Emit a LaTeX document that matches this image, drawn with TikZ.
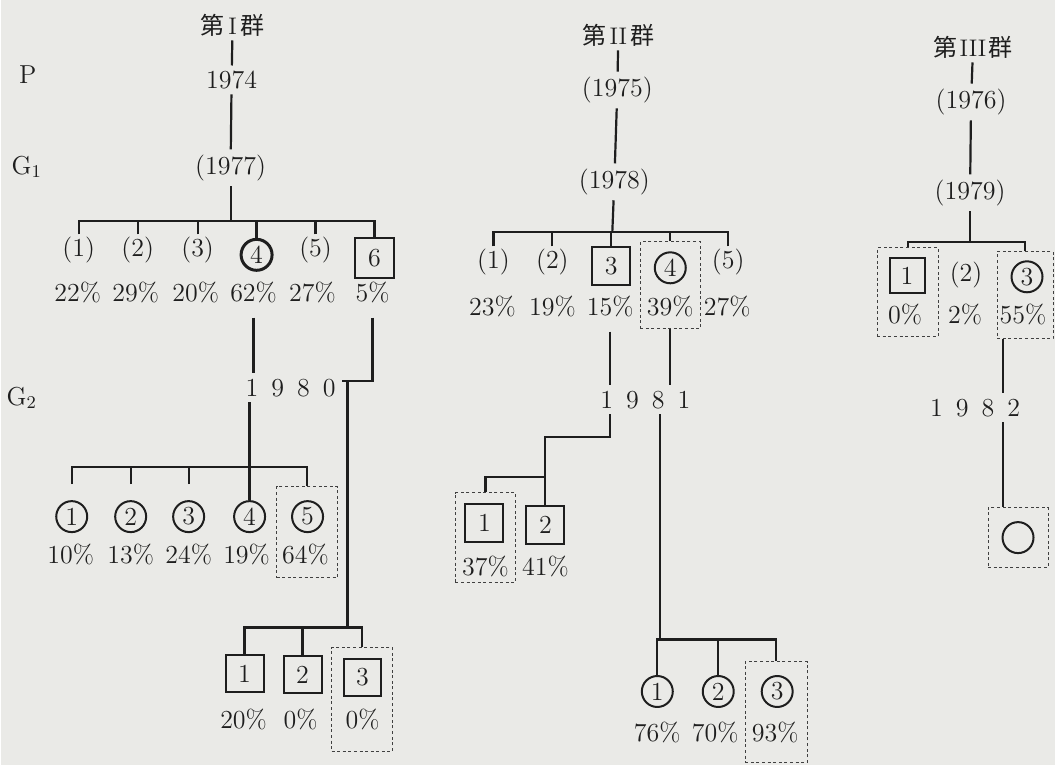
\documentclass[tikz,border=0pt]{standalone}
\usepackage{fontspec}
\newfontfamily\cjk{Noto Sans CJK JP}
\usepackage{xcolor}
\definecolor{paper}{RGB}{234,234,231}
\definecolor{ink}{RGB}{30,30,30}

\begin{document}
\begin{tikzpicture}[
  x=0.5pt, y=-0.5pt,
  every node/.style={text=ink, font=\fontsize{13}{15}\selectfont},
  grp/.style={font=\fontsize{12}{14}\selectfont, inner sep=2pt},
  yr/.style={inner sep=2.5pt},
  lbl/.style={inner sep=1pt},
  pct/.style={inner ysep=7pt},
  ring/.style={circle, draw=ink, line width=1pt, minimum size=15.5pt, inner sep=0pt},
  sq/.style={draw=ink, line width=1pt, minimum size=19pt, inner sep=0pt},
  dbox/.style 2 args={draw=ink!85, line width=0.5pt, dash pattern=on 1.5pt off 1.3pt,
                      minimum width=#1, minimum height=#2, inner sep=0pt},
  link/.style={draw=ink, line width=1.1pt}
]
\fill[paper] (0,0) rectangle (1055,766);

% generation labels
\node (lP) at (27,75) {P};
\node (lG1) at (26,167) {G$_1$};
\node (lG2) at (21,398) {G$_2$};

% ---- group I ----
\node[grp] (ta) at (232,25) {{\cjk 第}\kern2pt I\kern2pt{\cjk 群}};
\node[yr] (y1974) at (231,80) {1974};
\node[yr] (y1977) at (230,168) {(1977)};
\draw[link] (ta) -- (y1974);
\draw[link] (y1974) -- (y1977);
\coordinate (ja1) at (230,221);
\draw[link] (y1977) -- (ja1);

\node[lbl] (a11) at (78,250) {(1)};
\node[lbl] (a12) at (137,250) {(2)};
\node[lbl] (a13) at (197,250) {(3)};
\node[ring, line width=1.5pt] (a14) at (256,255) {4};
\node[lbl] (a15) at (315,250) {(5)};
\node[sq, minimum size=20pt] (a16) at (374,258) {6};
\foreach \n in {a11,a12,a13,a14,a15,a16}
  \draw[link] (\n.north) |- (ja1);

\node[pct] (pa11) at (77,293) {22\%};
\node[pct] (pa12) at (135,293) {29\%};
\node[pct] (pa13) at (195,293) {20\%};
\node[pct] (pa14) at (253,293) {62\%};
\node[pct] (pa15) at (312,293) {27\%};
\node[pct] (pa16) at (372,293) {5\%};

\node[yr] (y1980) at (290,388) {1\enspace9\enspace8\enspace0};
\draw[link] (pa14) -- (pa14 |- y1980.north);
\coordinate (ka) at (341,381);
\coordinate (ja3) at (347,628);
\draw[link] (pa16) |- (ka);
\draw[link] (ka -| ja3) -- (ja3);

% G2 of group I
\coordinate (ja2) at (250,467);
\node[ring] (a21) at (71,517) {1};
\node[ring] (a22) at (130,517) {2};
\node[ring] (a23) at (188,517) {3};
\node[ring] (a24) at (249,517) {4};
\node[ring] (a25) at (307,517) {5};
\node[dbox={30.5pt}{45.5pt}] (da25) at (306.5,532.5) {};
\draw[link] (a24 |- y1980.south) -- (a24);
\foreach \n in {a21,a22,a23}
  \draw[link] ([yshift=8pt]\n.north) |- (ja2);
\draw[link] (da25.north) |- (ja2);

\node[pct] (pa21) at (70,555) {10\%};
\node[pct] (pa22) at (130,555) {13\%};
\node[pct] (pa23) at (188,555) {24\%};
\node[pct] (pa24) at (246,555) {19\%};
\node[pct] (pa25) at (305,555) {64\%};

% G3 of group I
\node[sq] (a31) at (244,674) {1};
\node[sq] (a32) at (302,675) {2};
\node[sq] (a33) at (362,678) {3};
\node[dbox={30.5pt}{52pt}] (da33) at (361.5,700) {};
\draw[link] (a31.north) |- (ja3);
\draw[link] (a32.north) |- (ja3);
\draw[link] (da33.north) |- (ja3);

\node[pct] (pa31) at (243,720) {20\%};
\node[pct] (pa32) at (300,720) {0\%};
\node[pct] (pa33) at (362,720) {0\%};

% ---- group II ----
\node[grp] (tb) at (618,35) {{\cjk 第}\kern1.5pt II\kern1.5pt{\cjk 群}};
\node[yr] (y1975) at (617,90) {(1975)};
\node[yr] (y1978) at (614,182) {(1978)};
\draw[link] (tb) -- (y1975);
\draw[link] (y1975) -- (y1978);
\coordinate (jb1) at (612,232);
\draw[link] (y1978) -- (jb1);

\node[lbl] (b11) at (493,262) {(1)};
\node[lbl] (b12) at (552,262) {(2)};
\node[sq] (b13) at (611,266) {3};
\node[ring] (b14) at (670,268) {4};
\node[lbl] (b15) at (728,262) {(5)};
\node[dbox={30pt}{43.5pt}] (db14) at (670,285.5) {};
\foreach \n in {b11,b12,b13,db14,b15}
  \draw[link] (\n.north) |- (jb1);

\node[pct] (pb11) at (492,307) {23\%};
\node[pct] (pb12) at (552,307) {19\%};
\node[pct] (pb13) at (610,307) {15\%};
\node[pct] (pb14) at (670,307) {39\%};
\node[pct] (pb15) at (727,307) {27\%};

\node[yr] (y1981) at (645,400) {1\enspace9\enspace8\enspace1};
\draw[link] (pb13) -- (pb13 |- y1981.north);
\draw[link] (db14) -- (db14 |- y1981.north);

% G2 of group II, left branch
\coordinate (kb) at (545,437);
\coordinate (jb2) at (545,477);
\draw[link] (pb13 |- y1981.south) |- (kb) -- (jb2);
\node[sq] (b21) at (484,523) {1};
\node[sq] (b22) at (545,525) {2};
\node[dbox={30pt}{45pt}] (db21) at (485,538) {};
\draw[link] (db21.north) |- (jb2);
\draw[link] (b22.north) |- (jb2);
\node[pct] (pb21) at (485,567) {37\%};
\node[pct] (pb22) at (545,567) {41\%};

% G2 of group II, right branch
\coordinate (jb3) at (660,640);
\draw[link] (jb3 |- y1981.south) -- (jb3);
\node[ring] (b31) at (657,692) {1};
\node[ring] (b32) at (718,692) {2};
\node[ring] (b33) at (777,692) {3};
\node[dbox={31pt}{50.5pt}] (db33) at (776,712.5) {};
\draw[link] (b31.north) |- (jb3);
\draw[link] (b32.north) |- (jb3);
\draw[link] (db33.north) |- (jb3);
\node[pct] (pb31) at (657,733) {76\%};
\node[pct] (pb32) at (715,733) {70\%};
\node[pct] (pb33) at (775,733) {93\%};

% ---- group III ----
\node[grp] (tc) at (973,47) {{\cjk 第}\kern1pt III\kern1pt{\cjk 群}};
\node[yr] (y1976) at (971,102) {(1976)};
\node[yr] (y1979) at (970,193) {(1979)};
\draw[link] (tc) -- (y1976);
\draw[link] (y1976) -- (y1979);
\coordinate (jc1) at (970,242);
\draw[link] (y1979) -- (jc1);

\node[sq, minimum size=17.5pt] (c11) at (907,276) {1};
\node[lbl] (c12) at (966,275) {(2)};
\node[ring] (c13) at (1027,277) {3};
\node[dbox={30.5pt}{44.5pt}] (dc11) at (907.5,292.5) {};
\node[dbox={28pt}{43.5pt}] (dc13) at (1025,295.5) {};
\draw[link] (dc11.north) |- (jc1);
\draw[link] (dc13.north) |- (jc1);

\node[pct] (pc11) at (905,315) {0\%};
\node[pct] (pc12) at (965,315) {2\%};
\node[pct] (pc13) at (1023,315) {55\%};

\node[yr] (y1982) at (975,408) {1\enspace9\enspace8\enspace2};
\coordinate (xc) at (1003,0);
\node[ring] (c2) at (1018,538) {};
\node[dbox={30pt}{30pt}] (dc2) at (1018,538) {};
\draw[link] (dc13.south -| xc) -- (y1982.north -| xc);
\draw[link] (y1982.south -| xc) -- (dc2.north -| xc);
\end{tikzpicture}
\end{document}
